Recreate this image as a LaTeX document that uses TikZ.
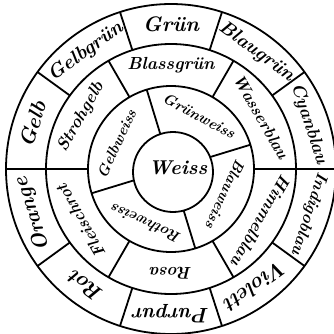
\documentclass[tikz,border=0pt]{standalone}
\usepackage{fontspec}
\usetikzlibrary{calc}
\tikzset{ring/.style={line width=1.8pt},
  lab/.style={inner sep=0pt,font=\bfseries\itshape},
  outerlab/.style={lab,font=\bfseries\itshape\fontsize{#1}{#1}\selectfont},
  midlab/.style={lab,font=\bfseries\itshape\fontsize{#1}{#1}\selectfont},
  innerlab/.style={lab,font=\bfseries\itshape\fontsize{15}{15}\selectfont}}

\begin{document}
\begin{tikzpicture}[x=1pt,y=1pt]
\useasboundingbox (-171,-164) rectangle (163,169);
\draw[ring] (0,0) circle(165);\draw[ring] (0,0) circle(125);\draw[ring] (0,0) circle(83);
% sector lines
\foreach \a in {0,36,...,324} \draw[ring] (\a:125)--(\a:165);
\foreach \a in {0,60,...,300} \draw[ring] (\a:83)--(\a:125);
\foreach \a in {17,107,197,287} \draw[ring] (\a:30)--(\a:83);
\filldraw[ring,fill=white] (2,-3) circle(40);
\node[lab,font=\bfseries\itshape\fontsize{20}{20}\selectfont] (weiss) at (7,1) {Weiss};
% outer ring
\foreach \a/\t/\s [count=\i] in {90/Grün/21,54/Blaugrün/19,18/Cyanblau/18,-18/Indigoblau/16.5,-54/Violett/21,-90/Purpur/21,-126/Rot/21,-162/Orange/21,162/Gelb/21,126/Gelbgrün/19.5}
  \node[outerlab=\s,rotate=\a-90] (o\i) at (\a:145) {\t};
% middle ring
\foreach \a/\t/\s [count=\i] in {90/Blassgrün/17.5,30/Wasserblau/16.5,-30/Himmelblau/17,-90/Rosa/17,-150/Fleischrot/16.5,150/Strohgelb/17}
  \node[midlab=\s,rotate=\a-90] (m\i) at (\a:104) {\t};
% inner ring
\foreach \a/\t [count=\i] in {62/Grünweiss,-25/Blauweiss,245/Rothweiss,155/Gelbweiss}
  \node[innerlab,rotate=\a-90] (i\i) at (\a:60) {\t};
\end{tikzpicture}
\end{document}
